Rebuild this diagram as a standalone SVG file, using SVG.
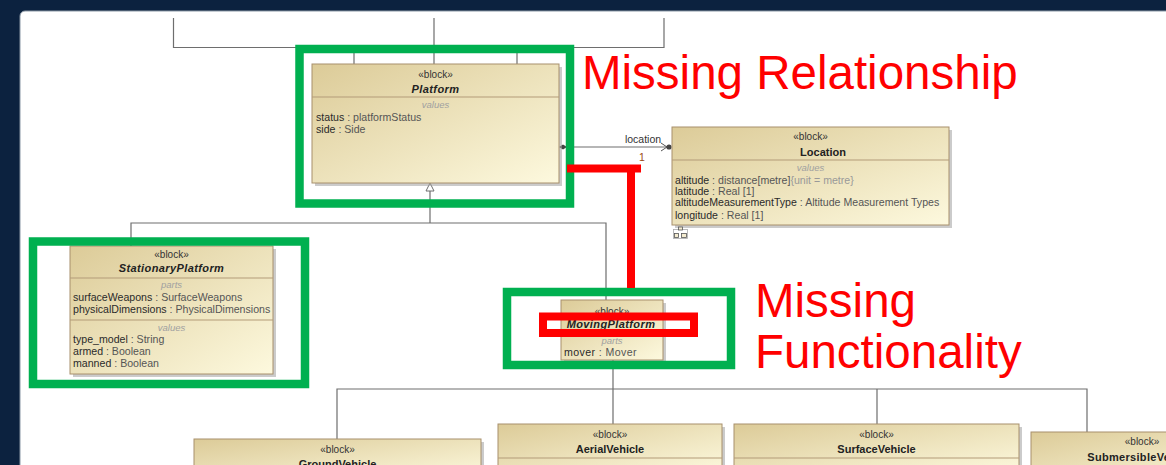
<svg xmlns="http://www.w3.org/2000/svg" width="1166" height="465" viewBox="0 0 1166 465">
<defs>
<linearGradient id="bg" x1="0" y1="0" x2="1" y2="1">
<stop offset="0" stop-color="#dccb98"/>
<stop offset="1" stop-color="#fdf9de"/>
</linearGradient>
</defs>
<style>
.blk{fill:url(#bg);stroke:#a8906c;stroke-width:1}
.sh{fill:#a0a0a0;opacity:0.55}
.div{stroke:#b39b78;stroke-width:1}
text{font-family:"Liberation Sans",Arial,sans-serif}
.st{font-size:10px;fill:#333;text-anchor:middle}
.nm{font-size:11px;font-weight:bold;fill:#222;text-anchor:middle}
.nmi{font-size:11px;font-weight:bold;font-style:italic;fill:#222;text-anchor:middle;letter-spacing:0.4px}
.cmp{font-size:9.5px;font-style:italic;fill:#a0a0a0;text-anchor:middle}
.at{font-size:10.6px;fill:#2a2a2a}
.ty{fill:#555}
.gy{fill:#999}
.con{fill:none;stroke:#6e6e6e;stroke-width:1.2}
.grn{fill:none;stroke:#00b050;stroke-width:8.5}
.red{fill:none;stroke:#ff0000;stroke-width:8}
.big{font-size:47.5px;fill:#ff0000}
</style>
<rect x="0" y="0" width="1166" height="465" fill="#0c223f"/>
<rect x="20" y="11" width="1160" height="470" rx="5" fill="#ffffff" stroke="#8a97a5" stroke-width="1"/>

<g id="connectors">
<path class="con" d="M173.5,18 V47.5 H664 V18 M434,18 V64 M354,47.5 V64 M517,47.5 V64"/>
<path class="con" d="M430,191 V223 M131,246 V223 H606 V300"/>
<path d="M430,183 L434,191 L426,191 Z" fill="#fff" stroke="#6e6e6e" stroke-width="1"/>
<path class="con" d="M566,147 H668"/>
<path d="M559,147 L563,144.5 L567,147 L563,149.5 Z" fill="#444"/>
<path d="M661,143 L667,147 L661,151" fill="none" stroke="#555" stroke-width="1"/>
<circle cx="669" cy="147" r="2.6" fill="#444"/>
<text x="643" y="143" style="font-size:10.5px;fill:#333;text-anchor:middle">location</text>
<text x="642" y="160.5" style="font-size:10.5px;fill:#9a4a10;text-anchor:middle">1</text>
<path class="con" d="M613,362 V389 M337,439 V389 H1087 V432 M613,389 V424 M877,389 V424"/>
<path d="M613,360 L617,367 L609,367 Z" fill="#fff" stroke="#6e6e6e" stroke-width="1"/>
</g>

<g id="Platform">
<rect class="sh" x="315" y="67" width="247" height="119"/>
<rect class="blk" x="312" y="64" width="247" height="119"/>
<line class="div" x1="312" y1="97" x2="559" y2="97"/>
<text class="st" x="435.5" y="77.5">«block»</text>
<text class="nmi" x="435.5" y="93">Platform</text>
<text class="cmp" x="435.5" y="108">values</text>
<text class="at" x="316" y="120.5">status<tspan class="ty"> : platformStatus</tspan></text>
<text class="at" x="316" y="132.5">side<tspan class="ty"> : Side</tspan></text>
</g>

<g id="Location">
<rect class="sh" x="675" y="130" width="277" height="98"/>
<rect class="blk" x="672" y="127" width="277" height="98"/>
<line class="div" x1="672" y1="160" x2="949" y2="160"/>
<text class="st" x="810.5" y="139.5">«block»</text>
<text class="nm" x="823" y="155.5" style="text-anchor:middle">Location</text>
<text class="cmp" x="810.5" y="171">values</text>
<text class="at" x="675" y="183.5">altitude<tspan class="ty"> : distance[metre]</tspan><tspan class="gy">{unit = metre}</tspan></text>
<text class="at" x="675" y="194.5">latitude<tspan class="ty"> : Real [1]</tspan></text>
<text class="at" x="675" y="206">altitudeMeasurementType<tspan class="ty"> : Altitude Measurement Types</tspan></text>
<text class="at" x="675" y="218.5">longitude<tspan class="ty"> : Real [1]</tspan></text>
<g fill="#f4ecd0" stroke="#555" stroke-width="0.8">
<rect x="673.5" y="229.5" width="14" height="9" fill="#fff" stroke="#aaa"/>
<rect x="678.5" y="227" width="4" height="3"/>
<rect x="674.5" y="233.5" width="4" height="4"/>
<rect x="681.5" y="233.5" width="5" height="4"/>
</g>
</g>

<g id="StationaryPlatform">
<rect class="sh" x="73" y="249" width="203" height="128"/>
<rect class="blk" x="70" y="246" width="203" height="128"/>
<line class="div" x1="70" y1="278" x2="273" y2="278"/>
<line class="div" x1="70" y1="320" x2="273" y2="320"/>
<text class="st" x="171.5" y="257.5">«block»</text>
<text class="nmi" x="171.5" y="272">StationaryPlatform</text>
<text class="cmp" x="171.5" y="288">parts</text>
<text class="at" x="73" y="300.5">surfaceWeapons<tspan class="ty"> : SurfaceWeapons</tspan></text>
<text class="at" x="73" y="312.5">physicalDimensions<tspan class="ty"> : PhysicalDimensions</tspan></text>
<text class="cmp" x="171.5" y="331">values</text>
<text class="at" x="73" y="342.5">type_model<tspan class="ty"> : String</tspan></text>
<text class="at" x="73" y="354.5">armed<tspan class="ty"> : Boolean</tspan></text>
<text class="at" x="73" y="366.5">manned<tspan class="ty"> : Boolean</tspan></text>
</g>

<g id="MovingPlatform">
<rect class="sh" x="564" y="303" width="102" height="60"/>
<rect class="blk" x="561" y="300" width="102" height="60"/>
<line class="div" x1="561" y1="333" x2="663" y2="333"/>
<text class="st" x="612" y="314.5">«block»</text>
<text class="nmi" x="611" y="328">MovingPlatform</text>
<text class="cmp" x="612" y="344">parts</text>
<text class="at" x="564" y="355.5" style="letter-spacing:0.4px">mover<tspan class="ty"> : Mover</tspan></text>
</g>

<g id="GroundVehicle">
<rect class="sh" x="197" y="442" width="287" height="40"/>
<rect class="blk" x="194" y="439" width="287" height="40"/>
<text class="st" x="337.5" y="452.5">«block»</text>
<text class="nm" x="337.5" y="468">GroundVehicle</text>
</g>

<g id="AerialVehicle">
<rect class="sh" x="501" y="427" width="224" height="50"/>
<rect class="blk" x="498" y="424" width="224" height="50"/>
<line class="div" x1="498" y1="458" x2="722" y2="458"/>
<text class="st" x="610" y="437.5">«block»</text>
<text class="nm" x="610" y="453">AerialVehicle</text>
</g>

<g id="SurfaceVehicle">
<rect class="sh" x="737" y="427" width="285" height="50"/>
<rect class="blk" x="734" y="424" width="285" height="50"/>
<line class="div" x1="734" y1="458" x2="1019" y2="458"/>
<text class="st" x="876.5" y="437.5">«block»</text>
<text class="nm" x="876.5" y="453">SurfaceVehicle</text>
</g>

<g id="SubmersibleVehicle">
<rect class="sh" x="1034" y="435" width="222" height="50"/>
<rect class="blk" x="1031" y="432" width="222" height="50"/>
<line class="div" x1="1031" y1="466" x2="1253" y2="466"/>
<text class="st" x="1142" y="444.5">«block»</text>
<text class="nm" x="1142" y="461" style="letter-spacing:0.3px">SubmersibleVehicle</text>
</g>

<g id="annotations">
<rect class="grn" x="299.5" y="49" width="270.5" height="154.5"/>
<rect class="grn" x="33" y="241.5" width="272" height="142.5"/>
<rect class="grn" x="507" y="292" width="224" height="73"/>
<path class="red" d="M567,168.5 H641 M631,165 V288"/>
<rect class="red" x="543" y="316.5" width="151" height="16.5"/>
<text class="big" x="582" y="89">Missing Relationship</text>
<text class="big" x="755" y="317">Missing</text>
<text class="big" x="755" y="368">Functionality</text>
</g>
</svg>
